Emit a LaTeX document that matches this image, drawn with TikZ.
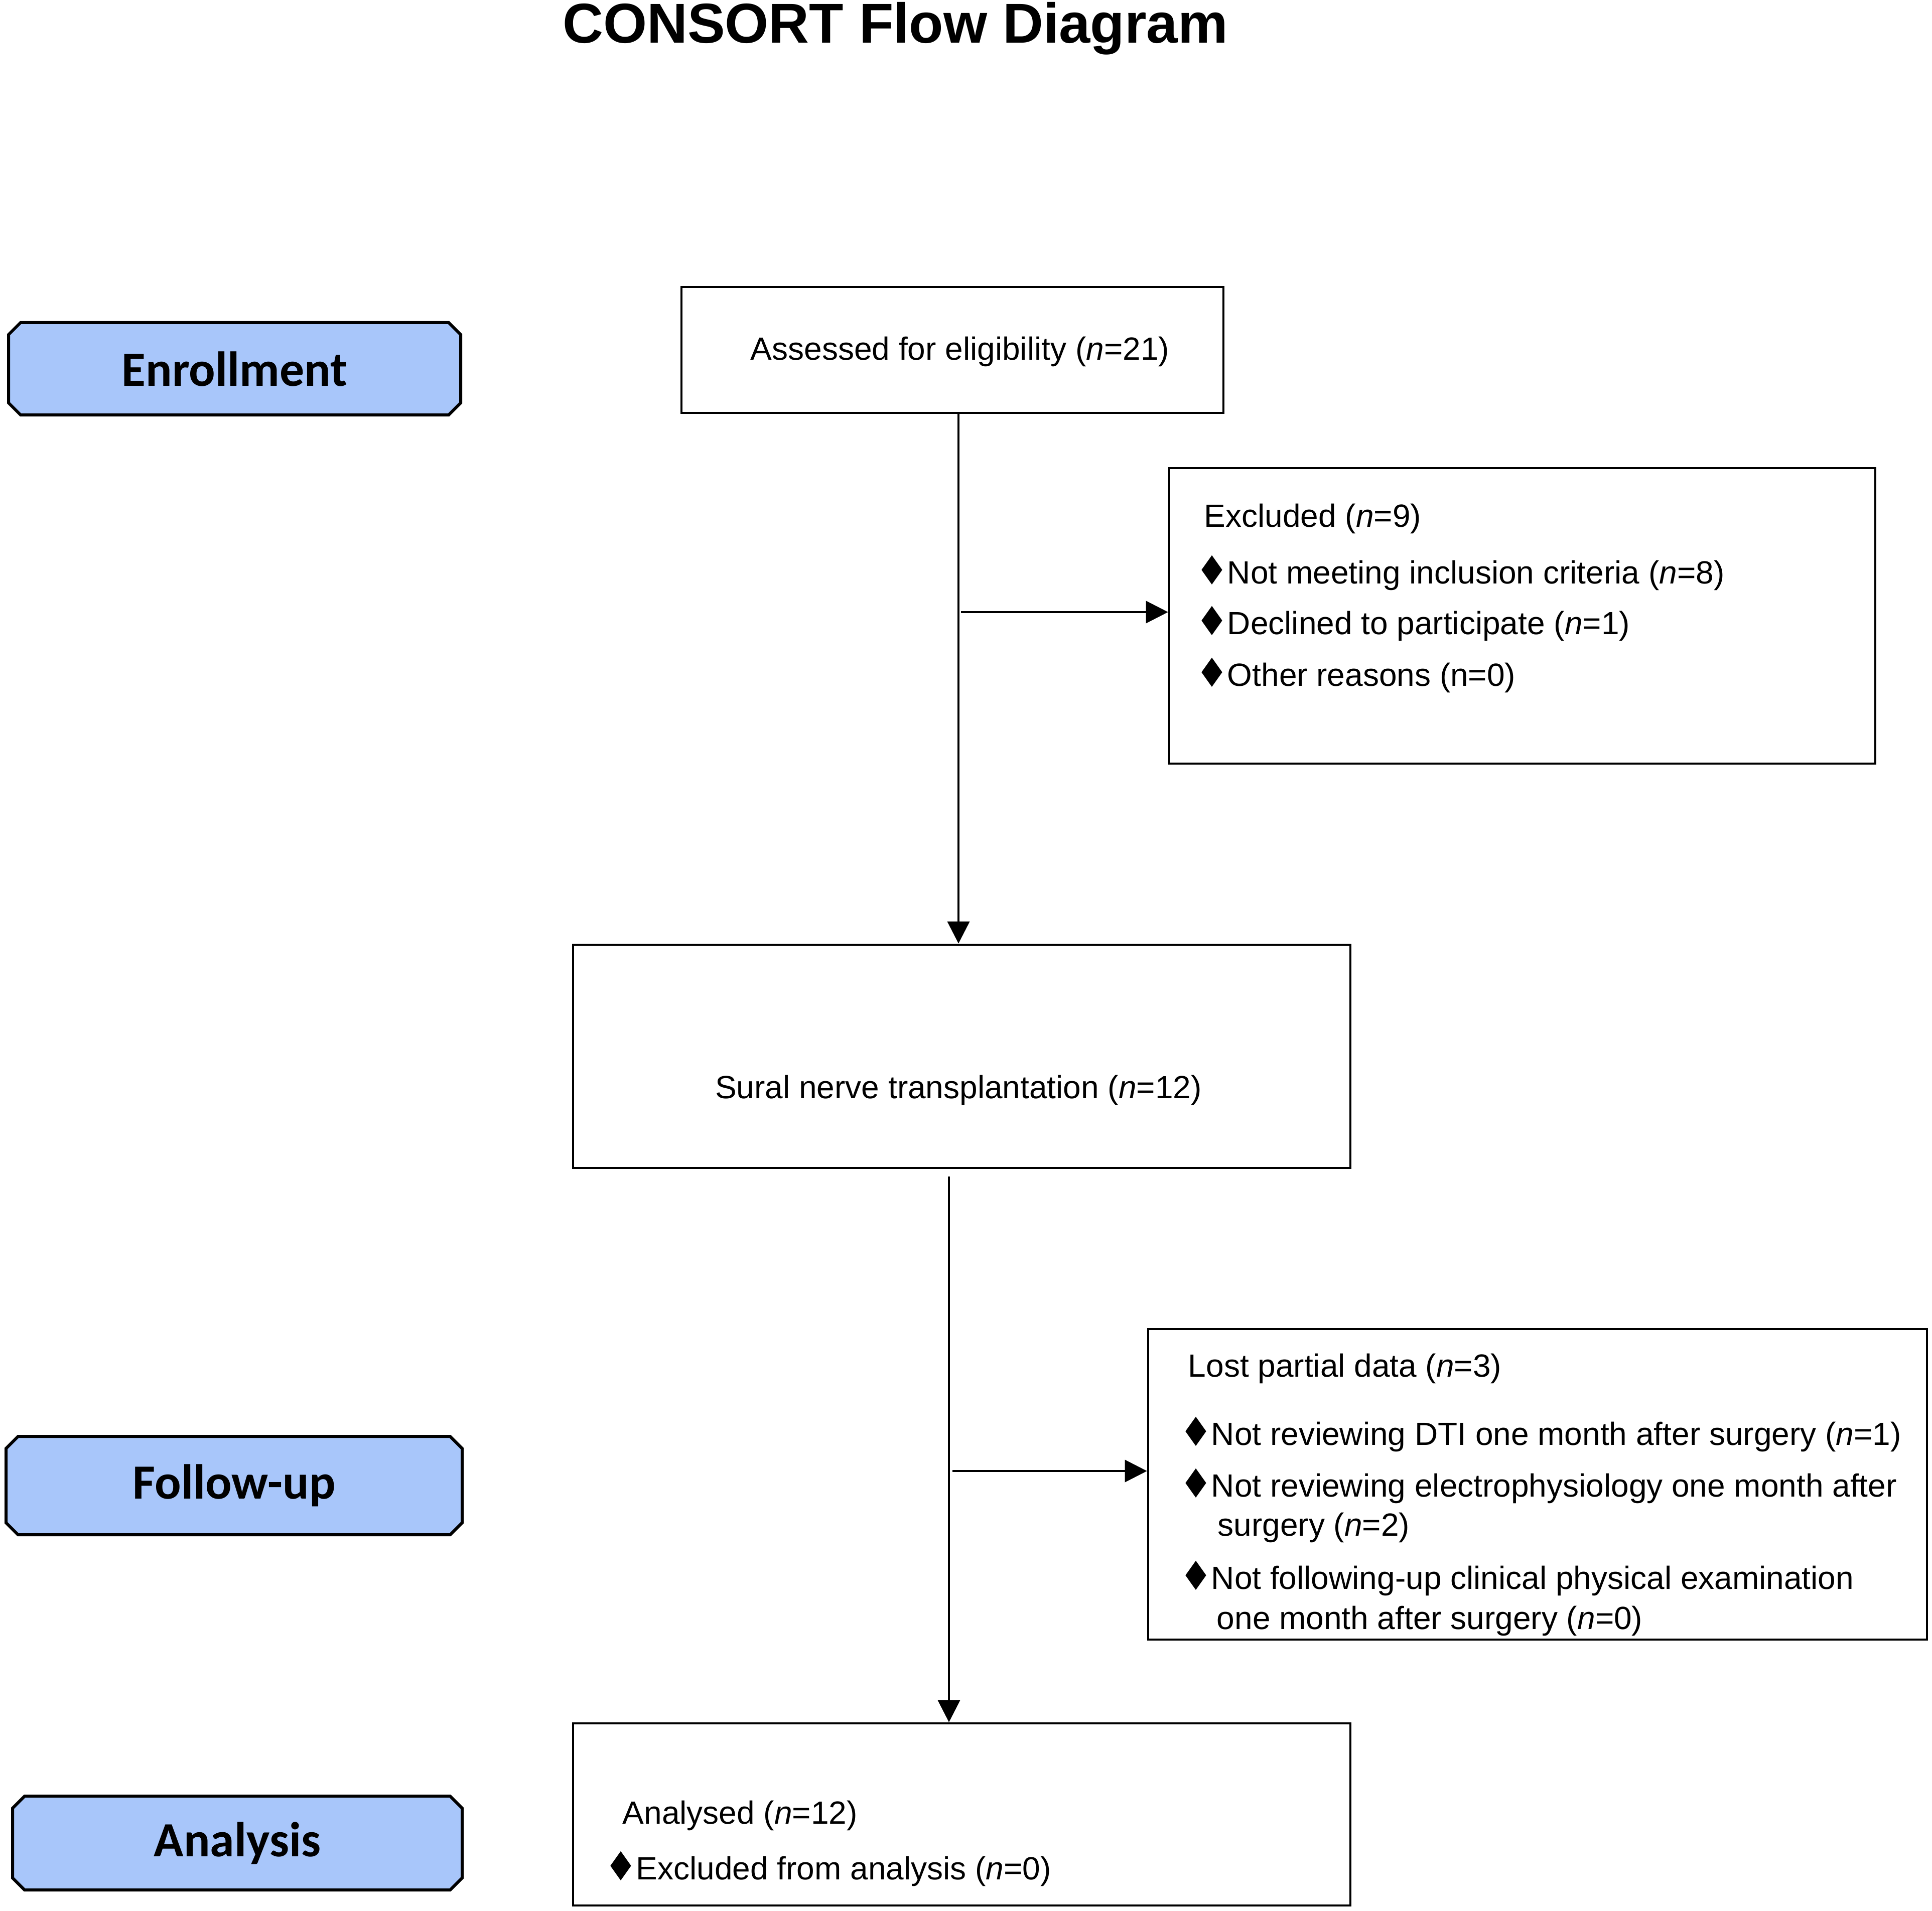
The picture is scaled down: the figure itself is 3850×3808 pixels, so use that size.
\documentclass[tikz,border=0pt]{standalone}
\usepackage{fontspec}
\usepackage{graphicx}
\setmainfont{Liberation Sans}
\newfontfamily\calibri{Carlito}
\newfontfamily\dejavu{DejaVu Sans}
\usetikzlibrary{shapes.misc,arrows.meta}
\definecolor{phase}{RGB}{168,198,250}
\newcommand\dmd{\makebox[13pt][l]{\hspace{-2.75pt}\raisebox{-0.5pt}{\dejavu\scalebox{1.15}[1.25]{♦}}}}
\tikzset{
  box/.style={draw, line width=1.2pt, inner sep=0pt},
  txt/.style={font=\fontsize{16}{19}\selectfont, inner sep=0pt, anchor=west},
  phaselbl/.style={chamfered rectangle, chamfered rectangle sep=3pt, draw, line width=1.5pt,
    fill=phase, font=\calibri\bfseries\fontsize{24.5}{28}\selectfont, inner sep=0pt},
  conn/.style={line width=1pt, -{Triangle[length=11pt,width=11pt]}}
}
\begin{document}
\begin{tikzpicture}[x=0.25pt,y=-0.25pt]
\useasboundingbox (0,0) rectangle (3850,3808);
% title
\node[font=\bfseries\fontsize{28}{32}\selectfont, anchor=base, inner sep=0pt] (title) at (1784,86) {CONSORT Flow Diagram};
% phase labels
\node[phaselbl, minimum width=225.25pt, minimum height=46pt] (enr) at (467.5,735) {Enrollment};
\node[phaselbl, minimum width=227.25pt, minimum height=49pt] (fol) at (466.5,2961) {Follow-up};
\node[phaselbl, minimum width=224pt, minimum height=46.75pt] (ana) at (473,3673.5) {Analysis};
% boxes
\node[box, minimum width=270pt, minimum height=62.75pt] (assess) at (1898,697.5) {};
\node[txt, anchor=center] (assesst) at (1913,701) {Assessed for eligibility (\textit{n}=21)};
\node[box, minimum width=351.75pt, minimum height=147.25pt] (excl) at (3033.5,1227.5) {};
\node[txt] (excl0) at (2399,1034) {Excluded (\textit{n}=9)};
\node[txt] (excl1) at (2393,1142) {\dmd Not meeting inclusion criteria (\textit{n}=8)};
\node[txt] (excl2) at (2393,1243) {\dmd Declined to participate (\textit{n}=1)};
\node[txt] (excl3) at (2393,1346) {\dmd Other reasons (n=0)};
\node[box, minimum width=387.25pt, minimum height=111.25pt] (sural) at (1916.5,2105.5) {};
\node[txt, anchor=center] (suralt) at (1910,2173) {Sural nerve transplantation (\textit{n}=12)};
\node[box, minimum width=388pt, minimum height=154.75pt] (lost) at (3064,2958.5) {};
\node[txt] (lost0) at (2367,2728) {Lost partial data (\textit{n}=3)};
\node[txt] (lost1) at (2361,2859) {\dmd Not reviewing DTI one month after surgery (\textit{n}=1)};
\node[txt] (lost2) at (2361,2962) {\dmd Not reviewing electrophysiology one month after};
\node[txt] (lost2b) at (2426,3045) {surgery (\textit{n}=2)};
\node[txt] (lost3) at (2361,3146) {\dmd Not following-up clinical physical examination};
\node[txt] (lost3b) at (2424,3231) {one month after surgery (\textit{n}=0)};
\node[box, minimum width=387.25pt, minimum height=90.75pt] (anal) at (1916.5,3616.5) {};
\node[txt] (anal0) at (1240,3619) {Analysed (\textit{n}=12)};
\node[txt] (anal1) at (1215,3725) {\dmd Excluded from analysis (\textit{n}=0)};
% connectors
\coordinate (v1) at (1910,0);
\draw[conn] (assess.south -| v1) -- (sural.north -| v1);
\coordinate (b1) at (1915,1220);
\draw[conn] (b1) -- (b1 -| excl.west);
\coordinate (v2) at (1891,2345);
\draw[conn] (v2) -- (v2 |- anal.north);
\coordinate (b2) at (1898,2932);
\draw[conn] (b2) -- (b2 -| lost.west);
\end{tikzpicture}
\end{document}
